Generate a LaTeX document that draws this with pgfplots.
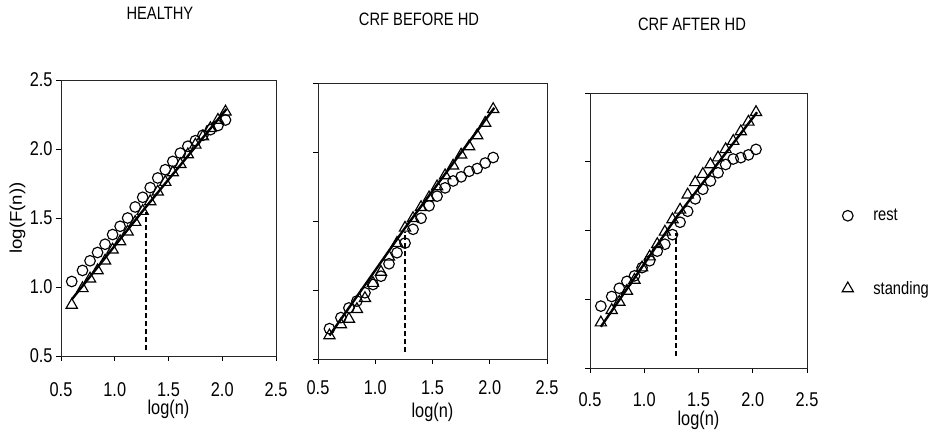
\documentclass[border=0pt]{standalone}
\usepackage{pgfplots}
\pgfplotsset{compat=1.18}
\usepackage{pgfplotstable}
\usepackage{fontspec}
\setmainfont{Liberation Sans}[FakeStretch=0.82]
\newfontfamily\ylabfont{Liberation Sans}[FakeStretch=1.1]
\newcommand\tickfont{\fontsize{20}{24}\selectfont}
\newcommand\titlefont{\fontsize{18}{22}\selectfont}

\pgfplotstableread{
x rest stand
0.60 1.04 0.87
0.70 1.12 0.99
0.77 1.19 1.06
0.84 1.25 1.12
0.91 1.31 1.19
0.98 1.38 1.27
1.05 1.44 1.33
1.12 1.50 1.40
1.19 1.58 1.47
1.26 1.65 1.55
1.33 1.72 1.62
1.40 1.79 1.69
1.47 1.85 1.76
1.54 1.91 1.83
1.61 1.97 1.89
1.68 2.02 1.96
1.75 2.06 2.03
1.82 2.10 2.09
1.89 2.14 2.15
1.96 2.17 2.21
2.03 2.21 2.27
}\healthy

\pgfplotstableread{
x rest stand
0.60 0.72 0.67
0.70 0.80 0.75
0.77 0.87 0.79
0.84 0.92 0.86
0.91 0.98 0.94
0.98 1.04 1.05
1.05 1.10 1.13
1.12 1.19 1.24
1.19 1.27 1.34
1.26 1.34 1.45
1.33 1.44 1.52
1.40 1.52 1.60
1.47 1.61 1.67
1.54 1.68 1.75
1.61 1.74 1.83
1.68 1.79 1.90
1.75 1.82 1.98
1.82 1.86 2.04
1.89 1.88 2.12
1.96 1.92 2.21
2.03 1.96 2.31
}\before

\pgfplotstableread{
x rest stand
0.60 0.95 0.83
0.70 1.02 0.92
0.77 1.08 0.98
0.84 1.13 1.06
0.91 1.17 1.14
0.98 1.23 1.23
1.05 1.28 1.31
1.12 1.35 1.40
1.19 1.40 1.49
1.26 1.47 1.58
1.33 1.56 1.65
1.40 1.64 1.76
1.47 1.73 1.85
1.54 1.80 1.91
1.61 1.86 1.98
1.68 1.92 2.03
1.75 1.98 2.09
1.82 2.02 2.15
1.89 2.03 2.22
1.96 2.05 2.29
2.03 2.09 2.36
}\after

\pgfplotsset{
  panel/.style={
    scale only axis, anchor=south west,
    xmin=0.5, xmax=2.5, ymin=0.5, ymax=2.5,
    xtick={0.5,1,1.5,2,2.5}, ytick={0.5,1,1.5,2,2.5},
    xticklabels={0.5,1.0,1.5,2.0,2.5},
    xtick pos=left, ytick pos=left,
    tick align=outside, major tick length=5bp,
    axis line style={black!85, line width=0.8pt},
    tick style={black, line width=0.8pt},
    xticklabel style={font=\tickfont, anchor=base, yshift=-35bp},
    xlabel={log(n)},
    xlabel style={font=\tickfont, at={(axis description cs:0.5,0)}, anchor=base, yshift=-58bp},
    title style={font=\titlefont, anchor=center},
    clip=false,
  },
  rest/.style={only marks, mark=o, mark size=5.3bp, mark options={line width=1.15pt, black}},
  stand/.style={only marks, mark=triangle, mark size=6.5bp, mark options={line width=1.15pt, black}},
  fit/.style={black, line width=2.4bp, no marks},
  cut/.style={black, line width=1.4pt, dash pattern=on 5bp off 3bp, no marks},
}

\begin{document}
\begin{tikzpicture}
\useasboundingbox (0,0) rectangle (933bp,438bp);

\begin{axis}[panel, at={(61bp,82bp)}, width=215bp, height=276bp,
  title={HEALTHY}, title style={at={(axis description cs:0.46,1)}, yshift=61bp},
  yticklabels={0.5,1.0,1.5,2.0,2.5},
  yticklabel style={font=\tickfont},
  ylabel={\ylabfont log(F(n))},
  ylabel style={font=\fontsize{17}{20}\selectfont, at={(axis description cs:0,0.5)}, anchor=center, yshift=43.5bp}]
\addplot[stand] table[x=x, y=stand] {\healthy};
\addplot[rest] table[x=x, y=rest] {\healthy};
\addplot[fit] coordinates {(0.60,0.91) (1.29,1.58) (2.04,2.29)};
\addplot[cut] coordinates {(1.29,0.54) (1.29,1.54)};
\end{axis}

\begin{axis}[panel, at={(318bp,79bp)}, width=229bp, height=276bp,
  title={CRF BEFORE HD}, title style={at={(axis description cs:0.441,1)}, yshift=58bp},
  yticklabels={}, xticklabel style={yshift=5bp}]
\addplot[stand] table[x=x, y=stand] {\before};
\addplot[rest] table[x=x, y=rest] {\before};
\addplot[fit] coordinates {(0.60,0.67) (1.26,1.45) (2.04,2.32)};
\addplot[cut] coordinates {(1.26,0.55) (1.26,1.42)};
\end{axis}

\begin{axis}[panel, at={(590bp,70bp)}, width=217bp, height=275bp,
  title={CRF AFTER HD}, title style={at={(axis description cs:0.47,1)}, yshift=62.5bp},
  yticklabels={}, xticklabel style={yshift=2bp}, xlabel style={yshift=1bp},
  legend style={draw=none, fill=none, at={(axis description cs:1.16,0.42)}, anchor=west,
    font=\titlefont, row sep=55bp, inner sep=0pt},
  legend cell align=left,
  legend image code/.code={\path (0bp,0bp) (29bp,0bp); \draw[#1] plot coordinates {(0.2cm,0cm)};}]
\addplot[rest] table[x=x, y=rest] {\after};
\addplot[stand] table[x=x, y=stand] {\after};
\addplot[black, line width=2.2pt, dash pattern=on 5bp off 3bp] coordinates {(1.295,0.59) (1.295,1.48)};
\addplot[fit] coordinates {(0.60,0.80) (1.29,1.59) (2.04,2.36)};
\legend{rest,standing}
\end{axis}
\end{tikzpicture}
\end{document}
